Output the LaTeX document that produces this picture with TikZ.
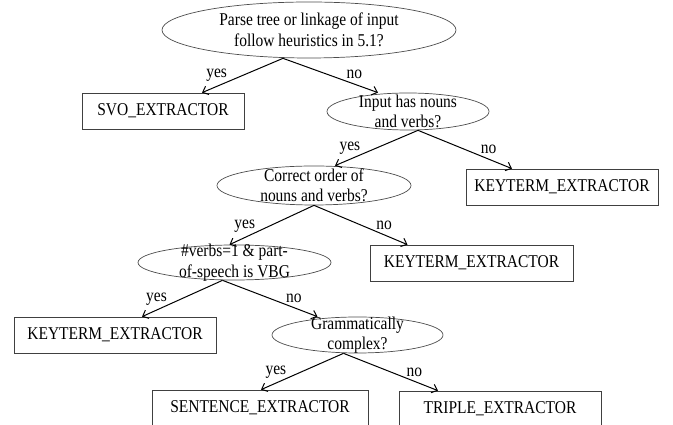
\documentclass[tikz,border=0pt]{standalone}
\usepackage{fontspec}
\setmainfont[FakeStretch=0.86]{Liberation Serif}
\usepackage{tikz}
\usetikzlibrary{positioning,shapes,arrows.meta,calc}

\begin{document}
\begin{tikzpicture}[x=1pt,y=1pt,
    font=\fontsize{18}{20.5}\selectfont,
    dec/.style={draw=black!70,line width=0.7pt,ellipse,inner xsep=0pt,inner ysep=-8pt,align=center},
    leaf/.style={draw=black!75,line width=0.7pt,minimum height=36pt,inner sep=0pt,align=center},
    arr/.style={line width=1pt,-{Straight Barb[length=5pt,width=9pt]}},
    lbl/.style={above=4.5pt,inner sep=0pt}
  ]
    \useasboundingbox (0,0) rectangle (673,425);
    \clip (0,0) rectangle (673,425);
    \node[dec,minimum width=294pt,minimum height=56pt] (d1) at (309,395) {Parse tree or linkage of input\\follow heuristics in 5.1?};
    \node[leaf,minimum width=162pt] (svo) at (163,314) {SVO\_EXTRACTOR};
    \node[dec,minimum width=162pt,minimum height=37pt] (d2) at (408,313.5) {Input has nouns\\and verbs?};
    \node[leaf,minimum width=192pt] (kt1) at (562,238) {KEYTERM\_EXTRACTOR};
    \node[dec,minimum width=194pt,minimum height=39pt] (d3) at (314,239.5) {Correct order of\\nouns and verbs?};
    \node[dec,minimum width=193pt,minimum height=35pt] (d4) at (234.5,162.5) {\#verbs=1 \& part-\\of-speech is VBG};
    \node[leaf,minimum width=203pt] (kt2) at (471.5,162) {KEYTERM\_EXTRACTOR};
    \node[leaf,minimum width=202pt] (kt3) at (115,90) {KEYTERM\_EXTRACTOR};
    \node[dec,minimum width=171pt,minimum height=36pt] (d5) at (357.5,90) {Grammatically\\complex?};
    \node[leaf,minimum width=216pt] (sent) at (260,17) {SENTENCE\_EXTRACTOR};
    \node[leaf,minimum width=202pt] (trip) at (500,16) {TRIPLE\_EXTRACTOR};

    \foreach \a/\as/\b/\bs/\t/\p in {d1/-26/svo/39/yes/0.82, d1/-26/d2/-30/no/0.75,
        d2/10/d3/21/yes/0.82, d2/10/kt1/-50/no/0.75,
        d3/0/d4/-5/yes/0.82, d3/0/kt2/-64/no/0.75,
        d4/-12/kt3/27/yes/0.82, d4/-12/d5/-40/no/0.75,
        d5/-14/sent/1/yes/0.82, d5/-14/trip/-62/no/0.75} {
      \draw[arr] ([xshift=\as]\a.south) -- ([xshift=\bs]\b.north) node[lbl,pos=\p] {\t};
    }
  \end{tikzpicture}
\end{document}
